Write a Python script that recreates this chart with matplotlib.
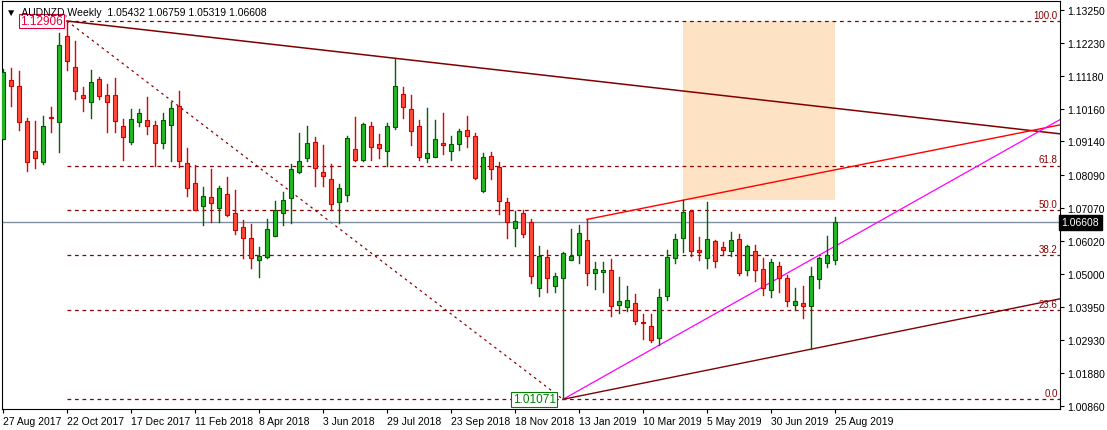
import matplotlib
matplotlib.use("Agg")
import matplotlib.pyplot as plt
from matplotlib.patches import Rectangle

plt.rcParams["font.family"] = ["Liberation Sans", "DejaVu Sans"]

# weekly OHLC, AUDNZD, 27 Aug 2017 .. 25 Aug 2019
opens = [1.0921, 1.1106, 1.1087, 1.0977, 1.0883, 1.0849, 1.0990, 1.0974, 1.1243, 1.1146,
         1.1059, 1.1037, 1.1109, 1.1059, 1.1059, 1.0962, 1.0911, 1.0974, 1.0980, 1.0965,
         1.0908, 1.0965, 1.1024, 1.0846, 1.0783, 1.0711, 1.0739, 1.0705, 1.0749, 1.0689,
         1.0645, 1.0611, 1.0542, 1.0551, 1.0617, 1.0689, 1.0736, 1.0818, 1.0861, 1.0911,
         1.0818, 1.0796, 1.0724, 1.0746, 1.0890, 1.0855, 1.0962, 1.0905, 1.0883, 1.0958,
         1.1062, 1.1015, 1.0962, 1.0861, 1.0865, 1.0908, 1.0883, 1.0905, 1.0949, 1.0930,
         1.0758, 1.0868, 1.0833, 1.0724, 1.0642, 1.0689, 1.0661, 1.0454, 1.0551, 1.0461,
         1.0486, 1.0542, 1.0558, 1.0605, 1.0501, 1.0505, 1.0511, 1.0401, 1.0395, 1.0408,
         1.0348, 1.0336, 1.0298, 1.0429, 1.0548, 1.0611, 1.0695, 1.0573, 1.0548, 1.0602,
         1.0583, 1.0570, 1.0608, 1.0511, 1.0570, 1.0514, 1.0448, 1.0523, 1.0486, 1.0401,
         1.0408, 1.0398, 1.0483, 1.0533, 1.05432]
highs = [1.1140, 1.1143, 1.1134, 1.0987, 1.0977, 1.0993, 1.1021, 1.1253, 1.12906, 1.1228,
         1.1084, 1.1137, 1.1115, 1.1093, 1.1112, 1.0983, 1.1015, 1.1015, 1.1052, 1.0977,
         1.1002, 1.1037, 1.1071, 1.0893, 1.0839, 1.0771, 1.0827, 1.0774, 1.0802, 1.0761,
         1.0667, 1.0655, 1.0583, 1.0670, 1.0727, 1.0755, 1.0843, 1.0940, 1.0962, 1.0927,
         1.0902, 1.0843, 1.0780, 1.0930, 1.0990, 1.0971, 1.0974, 1.0936, 1.0971, 1.1174,
         1.1084, 1.1059, 1.0980, 1.1018, 1.0980, 1.1002, 1.0930, 1.0952, 1.0993, 1.0940,
         1.0877, 1.0880, 1.0849, 1.0736, 1.0695, 1.0699, 1.0670, 1.0586, 1.0573, 1.0501,
         1.0567, 1.0639, 1.0652, 1.0670, 1.0536, 1.0536, 1.0545, 1.0489, 1.0461, 1.0436,
         1.0373, 1.0373, 1.0451, 1.0573, 1.0623, 1.0730, 1.0699, 1.0614, 1.0724, 1.0605,
         1.0598, 1.0630, 1.0623, 1.0589, 1.0589, 1.0548, 1.0545, 1.0536, 1.0495, 1.0454,
         1.0461, 1.0520, 1.0551, 1.0617, 1.06759]
lows = [1.0921, 1.1024, 1.0949, 1.0821, 1.0830, 1.0843, 1.0943, 1.0880, 1.1137, 1.1046,
        1.1008, 1.0987, 1.1046, 1.0943, 1.0943, 1.0855, 1.0905, 1.0962, 1.0936, 1.0836,
        1.0893, 1.0852, 1.0833, 1.0742, 1.0699, 1.0652, 1.0661, 1.0661, 1.0680, 1.0623,
        1.0548, 1.0517, 1.0489, 1.0548, 1.0617, 1.0652, 1.0658, 1.0814, 1.0852, 1.0774,
        1.0774, 1.0699, 1.0658, 1.0727, 1.0852, 1.0852, 1.0855, 1.0861, 1.0836, 1.0952,
        1.0987, 1.0902, 1.0855, 1.0849, 1.0865, 1.0874, 1.0855, 1.0886, 1.0896, 1.0796,
        1.0755, 1.0796, 1.0686, 1.0611, 1.0586, 1.0614, 1.0470, 1.0429, 1.0442, 1.0442,
        1.01071, 1.0542, 1.0533, 1.0464, 1.0451, 1.0442, 1.0367, 1.0376, 1.0382, 1.0342,
        1.0295, 1.0285, 1.0276, 1.0417, 1.0533, 1.0567, 1.0555, 1.0542, 1.0517, 1.0520,
        1.0558, 1.0555, 1.0495, 1.0495, 1.0476, 1.0433, 1.0426, 1.0442, 1.0398, 1.0386,
        1.0361, 1.0264, 1.0454, 1.0520, 1.05319]
closes = [1.1131, 1.1087, 1.0974, 1.0849, 1.0861, 1.0962, 1.0987, 1.1215, 1.1165, 1.1071,
          1.1049, 1.1099, 1.1055, 1.1037, 1.0977, 1.0927, 1.0983, 1.1002, 1.0962, 1.0908,
          1.0980, 1.1018, 1.0852, 1.0767, 1.0699, 1.0742, 1.0721, 1.0767, 1.0683, 1.0636,
          1.0611, 1.0548, 1.0555, 1.0639, 1.0699, 1.0730, 1.0827, 1.0852, 1.0908, 1.0830,
          1.0805, 1.0717, 1.0767, 1.0924, 1.0855, 1.0968, 1.0896, 1.0893, 1.0962, 1.1087,
          1.1021, 1.0946, 1.0865, 1.0877, 1.0921, 1.0902, 1.0905, 1.0946, 1.0930, 1.0799,
          1.0865, 1.0827, 1.0727, 1.0661, 1.0664, 1.0623, 1.0492, 1.0555, 1.0486, 1.0492,
          1.0564, 1.0555, 1.0627, 1.0501, 1.0514, 1.0511, 1.0398, 1.0414, 1.0417, 1.0351,
          1.0345, 1.0292, 1.0426, 1.0551, 1.0608, 1.0692, 1.0570, 1.0567, 1.0608, 1.0539,
          1.0573, 1.0605, 1.0501, 1.0586, 1.0511, 1.0454, 1.0536, 1.0486, 1.0414, 1.0414,
          1.0398, 1.0492, 1.0548, 1.0558, 1.06608]

date_labels = ["27 Aug 2017", "22 Oct 2017", "17 Dec 2017", "11 Feb 2018", "8 Apr 2018",
               "3 Jun 2018", "29 Jul 2018", "23 Sep 2018", "18 Nov 2018", "13 Jan 2019",
               "10 Mar 2019", "5 May 2019", "30 Jun 2019", "25 Aug 2019"]
price_ticks = [1.13250, 1.12230, 1.11180, 1.10160, 1.09140, 1.08090, 1.07070,
               1.06020, 1.05000, 1.03950, 1.02930, 1.01880, 1.00860]

fib_high, fib_low = 1.12906, 1.01071
fib_levels = [0.0, 23.6, 38.2, 50.0, 61.8, 100.0]
last_price = 1.06608

# drawing anchors (bar index, price)
top_idx, low_idx = 8, 70
res_pts = [(8, 1.12906), (49, 1.1174)]
chan_top_pts = [(73, 1.0670), (85, 1.0730)]
magenta_pts = [(70, 1.01071), (104, 1.0586)]
sup_pts = [(70, 1.01071), (101, 1.0264)]
box_x = (85, 104)
box_y = (1.0730, 1.12906)

W, H = 1107, 431
fig = plt.figure(figsize=(W / 100, H / 100), dpi=100)
# bar i at pixel 3 + 8*i; plot area pixels x 2..1060, y 2..410
x0 = (2 - 3) / 8
x1 = (1060 - 3) / 8
y_top = 1.1325 + 9 / 3196.6
y_bot = 1.1325 - 399 / 3196.6
ax = fig.add_axes([2 / W, 1 - 410 / H, 1058 / W, 408 / H])
ax.set_xlim(x0, x1)
ax.set_ylim(y_bot, y_top)

fib_col = "#8b0000"

# orange box
ax.add_patch(Rectangle((box_x[0], box_y[0]), box_x[1] - box_x[0], box_y[1] - box_y[0],
                       facecolor="#fde3c4", edgecolor="none", zorder=0))

# fibo levels
for lv in fib_levels:
    p = fib_low + (fib_high - fib_low) * lv / 100
    ax.plot([top_idx, x1], [p, p], color=fib_col, lw=0.9, ls=(0, (3, 3)), zorder=1)
    ax.text(x1 - 0.3, p + 0.0004, f"{lv:.1f}", color=fib_col, fontsize=7,
            ha="right", va="bottom", zorder=3)

# dotted swing line
ax.plot([top_idx, low_idx], [fib_high, fib_low], color=fib_col, lw=0.9,
        ls=(0, (2, 3)), zorder=1)

def ray(pts, color, lw=1.0):
    (xa, ya), (xb, yb) = pts
    k = (yb - ya) / (xb - xa)
    ax.plot([xa, x1], [ya, ya + k * (x1 - xa)], color=color, lw=lw, zorder=2)

ray(res_pts, "#800000", 1.1)
ray(chan_top_pts, "#ff0000", 1.0)
ray(magenta_pts, "#ff00ff", 0.9)
ray(sup_pts, "#800000", 1.0)
ax.plot([chan_top_pts[0][0], chan_top_pts[0][0]], [1.0670, highs[73]], color="#ff0000", lw=1)

# current price line
ax.axhline(last_price, color="#8090a0", lw=1, zorder=1)

# candles
for i, (o, h, l, c) in enumerate(zip(opens, highs, lows, closes)):
    up = c >= o
    fc = "#22b822" if up else "#ff4a3a"
    ec = "#005a00" if up else "#d40000"
    wc = "#006400" if up else "#e00000"
    ax.plot([i, i], [l, h], color=wc, lw=1, zorder=4)
    b0, b1 = min(o, c), max(o, c)
    ax.add_patch(Rectangle((i - 0.3, b0), 0.6, max(b1 - b0, 0.00012),
                           facecolor=fc, edgecolor=ec, lw=0.8, zorder=5))

# hi/lo labels
ax.text(top_idx - 0.5, fib_high, "1.12906", color="#e0003c", fontsize=8.5, ha="right",
        va="center", zorder=6,
        bbox=dict(boxstyle="square,pad=0.12", fc="white", ec="#e0003c", lw=0.8))
ax.text(low_idx - 0.9, fib_low, "1.01071", color="#008000", fontsize=8.5, ha="right",
        va="center", zorder=6,
        bbox=dict(boxstyle="square,pad=0.12", fc="white", ec="#008000", lw=0.8))

# axes
ax.yaxis.tick_right()
ax.set_yticks(price_ticks)
ax.set_yticklabels([f"{t:.5f}" for t in price_ticks])
ax.set_xticks(range(0, 8 * len(date_labels), 8))
ax.set_xticklabels(date_labels, ha="left")
ax.tick_params(axis="both", labelsize=7.5, length=3, width=0.8, colors="black", pad=2)
for s in ax.spines.values():
    s.set_linewidth(0.8)

ax.text(1.0015, last_price, f"{last_price:.5f}", transform=ax.get_yaxis_transform(),
        color="white", fontsize=7.5, va="center", ha="left", zorder=7,
        bbox=dict(boxstyle="square,pad=0.25", fc="black", ec="black"))

ax.text(0.004, 0.985, "\u25bc  AUDNZD,Weekly  1.05432 1.06759 1.05319 1.06608",
        transform=ax.transAxes, fontsize=7.5, va="top", ha="left", zorder=7)

fig.savefig("out.png", dpi=100)
